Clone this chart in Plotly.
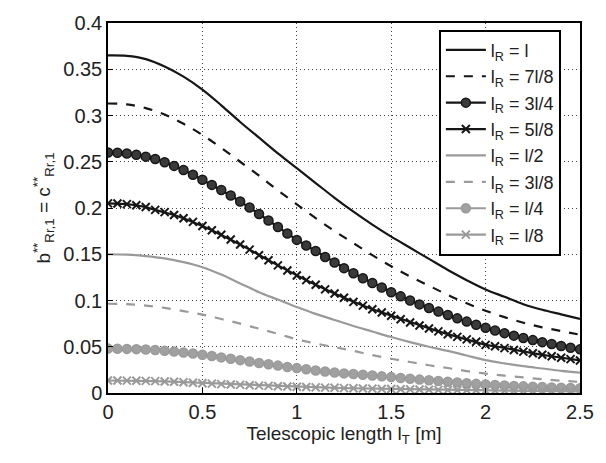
import plotly.graph_objects as go

# x grids
x_line = [round(i * 0.1, 2) for i in range(26)]
x_mark = [round(i * 0.05, 2) for i in range(51)]

# l_R = l (solid black)
y_l = [0.365, 0.3645, 0.361, 0.353, 0.342, 0.328, 0.311, 0.293, 0.276, 0.259,
       0.243, 0.227, 0.211, 0.196, 0.182, 0.169, 0.157, 0.145, 0.133, 0.122,
       0.112, 0.104, 0.096, 0.090, 0.085, 0.080]
# l_R = 7l/8 (dashed black)
y_7l8 = [0.313, 0.312, 0.308, 0.301, 0.291, 0.279, 0.265, 0.250, 0.235, 0.219,
         0.204, 0.189, 0.175, 0.162, 0.149, 0.137, 0.126, 0.116, 0.106, 0.097,
         0.089, 0.082, 0.076, 0.071, 0.067, 0.063]
# l_R = 3l/4 (black circles)
y_3l4 = [0.260, 0.2598, 0.259, 0.2575, 0.2555, 0.253, 0.2495, 0.2455, 0.241, 0.236,
         0.2305, 0.225, 0.2195, 0.2135, 0.207, 0.2005, 0.1935, 0.1865, 0.1795, 0.1725,
         0.1655, 0.1595, 0.1535, 0.147, 0.141, 0.135, 0.1295, 0.124, 0.119, 0.114,
         0.109, 0.1045, 0.100, 0.0958, 0.0918, 0.088, 0.0843, 0.0807, 0.0772, 0.0738,
         0.0705, 0.0675, 0.0647, 0.062, 0.0595, 0.0572, 0.055, 0.0529, 0.0509, 0.049,
         0.0472]
# l_R = 5l/8 (black crosses)
y_5l8 = [0.205, 0.2048, 0.2042, 0.203, 0.201, 0.198, 0.1955, 0.1925, 0.189, 0.185,
         0.1805, 0.176, 0.171, 0.166, 0.1605, 0.155, 0.149, 0.1435, 0.138, 0.1325,
         0.127, 0.122, 0.117, 0.112, 0.1075, 0.103, 0.0985, 0.0945, 0.0905, 0.087,
         0.0835, 0.0798, 0.0763, 0.073, 0.0697, 0.0666, 0.0636, 0.0607, 0.058, 0.0554,
         0.052, 0.0505, 0.0485, 0.0465, 0.0447, 0.043, 0.0413, 0.0397, 0.0381, 0.0366,
         0.0352]
# l_R = l/2 (solid gray)
y_l2 = [0.150, 0.1495, 0.148, 0.1455, 0.1415, 0.136, 0.128, 0.1185, 0.109, 0.101,
        0.093, 0.0855, 0.079, 0.0725, 0.0665, 0.0605, 0.055, 0.050, 0.0455, 0.0405,
        0.0355, 0.032, 0.029, 0.0265, 0.024, 0.022]
# l_R = 3l/8 (dashed gray)
y_3l8 = [0.0965, 0.096, 0.0945, 0.092, 0.0885, 0.0848, 0.080, 0.075, 0.0695, 0.064,
         0.058, 0.0535, 0.0495, 0.0455, 0.041, 0.037, 0.0335, 0.030, 0.027, 0.0237,
         0.021, 0.0188, 0.0168, 0.015, 0.0133, 0.012]
# l_R = l/4 (gray circles)
y_l4 = [0.0480, 0.0479, 0.0477, 0.0474, 0.0470, 0.0464, 0.0457, 0.0448, 0.0438, 0.0427,
        0.0414, 0.0400, 0.0385, 0.0370, 0.0355, 0.0340, 0.0325, 0.0310, 0.0296, 0.0282,
        0.0269, 0.0256, 0.0244, 0.0232, 0.0221, 0.0212, 0.0205, 0.0197, 0.0189, 0.0180,
        0.0172, 0.0163, 0.0154, 0.0145, 0.0137, 0.0129, 0.0121, 0.0113, 0.0106, 0.0099,
        0.0093, 0.0087, 0.0082, 0.0077, 0.0072, 0.0068, 0.0064, 0.0060, 0.0057, 0.0054,
        0.0051]
# l_R = l/8 (gray crosses)
y_l8 = [0.0135, 0.0135, 0.0134, 0.0133, 0.0131, 0.0128, 0.0125, 0.0121, 0.0116, 0.0111,
        0.0106, 0.0101, 0.0096, 0.0092, 0.0088, 0.0084, 0.0080, 0.0077, 0.0073, 0.0070,
        0.0067, 0.0064, 0.0061, 0.0058, 0.0056, 0.0053, 0.0051, 0.0049, 0.0047, 0.0045,
        0.0043, 0.0041, 0.0039, 0.0037, 0.0036, 0.0034, 0.0033, 0.0031, 0.0030, 0.0029,
        0.0027, 0.0026, 0.0025, 0.0024, 0.0023, 0.0022, 0.0021, 0.0021, 0.0020, 0.0019,
        0.0018]

names = ["l<sub>R</sub> = l", "l<sub>R</sub> = 7l/8", "l<sub>R</sub> = 3l/4",
         "l<sub>R</sub> = 5l/8", "l<sub>R</sub> = l/2", "l<sub>R</sub> = 3l/8",
         "l<sub>R</sub> = l/4", "l<sub>R</sub> = l/8"]

BLACK = "#161616"
GRAY = "#9a9a9a"

fig = go.Figure()

def add_line(x, y, name, color, dash):
    fig.add_trace(go.Scatter(x=x, y=y, name=name, mode="lines",
                             line=dict(color=color, width=2.2, dash=dash, shape="spline")))

def add_circles(x, y, name, color, fill):
    fig.add_trace(go.Scatter(x=x, y=y, name=name, mode="lines+markers",
                             line=dict(color=color, width=2.2),
                             marker=dict(symbol="circle", size=9, color=fill,
                                         line=dict(color=color, width=1.5))))

def add_crosses(x, y, name, color):
    fig.add_trace(go.Scatter(x=x, y=y, name=name, mode="lines+markers",
                             line=dict(color=color, width=2.2),
                             marker=dict(symbol="x-thin", size=8, color=color,
                                         line=dict(color=color, width=2))))

add_line(x_line, y_l, names[0], BLACK, "solid")
add_line(x_line, y_7l8, names[1], BLACK, "dash")
add_circles(x_mark, y_3l4, names[2], BLACK, "#3a3a3a")
add_crosses(x_mark, y_5l8, names[3], BLACK)
add_line(x_line, y_l2, names[4], GRAY, "solid")
add_line(x_line, y_3l8, names[5], GRAY, "dash")
add_circles(x_mark, y_l4, names[6], GRAY, "#a0a0a0")
add_crosses(x_mark, y_l8, names[7], GRAY)

FONT = "Liberation Sans, Arial, sans-serif"

fig.update_layout(
    width=606, height=463,
    margin=dict(l=108, r=13, t=14, b=70),
    paper_bgcolor="white", plot_bgcolor="white",
    font=dict(family=FONT, size=19, color="#222"),
    showlegend=True,
    legend=dict(x=0.701, y=0.982, xanchor="left", yanchor="top",
                bgcolor="white", bordercolor="black", borderwidth=2,
                font=dict(size=18), tracegroupgap=0, itemwidth=40),
    xaxis=dict(range=[0, 2.5], tickvals=[0, 0.5, 1, 1.5, 2, 2.5],
               ticktext=["0", "0.5", "1", "1.5", "2", "2.5"],
               showgrid=True, gridcolor="#444", griddash="1px,3px", gridwidth=1,
               zeroline=False, showline=True, linecolor="black", linewidth=1.5,
               mirror=True, ticks="inside", ticklen=5, tickcolor="black",
               tickfont=dict(size=20),
               title=dict(text="Telescopic length l<sub>T</sub> [m]",
                          font=dict(size=19), standoff=4)),
    yaxis=dict(range=[0, 0.4], dtick=0.05, tick0=0,
               showgrid=True, gridcolor="#444", griddash="1px,3px", gridwidth=1,
               zeroline=False, showline=True, linecolor="black", linewidth=1.5,
               mirror=True, ticks="inside", ticklen=5, tickcolor="black",
               tickfont=dict(size=20),
               title=dict(text="b<sup>**</sup><sub>Rr,1</sub> = c<sup>**</sup><sub>Rr,1</sub>",
                          font=dict(size=19), standoff=8)),
)

fig.write_html("out.html")
